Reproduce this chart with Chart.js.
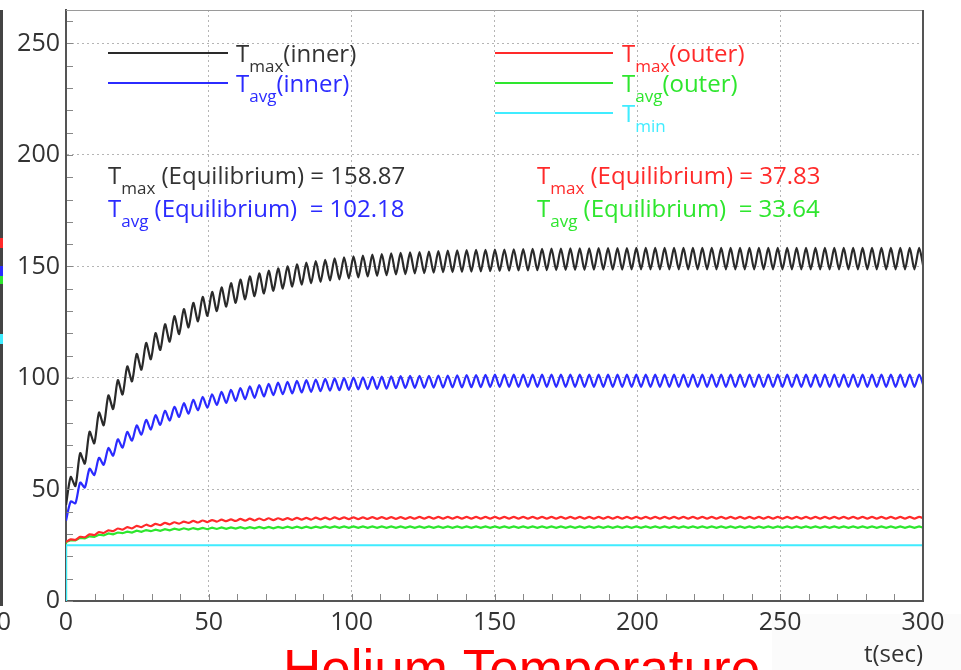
<!DOCTYPE html>
<html>
<head>
<meta charset="utf-8">
<title>Helium Temperature</title>
<script src="https://cdn.jsdelivr.net/npm/chart.js@4.4.1/dist/chart.umd.min.js"></script>
<style>
    html, body { margin: 0; padding: 0; background: #fff; }
    #wrap { width: 961px; height: 670px; }
</style>
</head>
<body>
<div id="wrap"><canvas id="chart-helium" width="961" height="670"></canvas></div>
<script>
(function () {
    "use strict";

    // ======================================================================
    // Data
    //
    // samples are taken every half period of the ~3.3 s oscillation
    const TIME_STEP = 1.65;

    const tmaxInner = [
        43.0, 55.6, 51.5, 66.3, 61.6, 75.9, 70.7, 84.5, 78.8, 92.2,
        86.1, 99.0, 92.6, 105.2, 98.5, 110.8, 103.7, 115.7, 108.4, 120.1,
        112.6, 124.1, 116.3, 127.7, 119.7, 130.9, 122.7, 133.7, 125.4, 136.3,
        127.9, 138.6, 130.0, 140.6, 132.0, 142.5, 133.7, 144.1, 135.3, 145.6,
        136.7, 146.9, 137.9, 148.1, 139.1, 149.2, 140.1, 150.1, 141.0, 151.0,
        141.8, 151.7, 142.5, 152.4, 143.1, 153.0, 143.7, 153.6, 144.2, 154.1,
        144.7, 154.5, 145.1, 154.9, 145.5, 155.3, 145.8, 155.6, 146.1, 155.9,
        146.4, 156.1, 146.6, 156.3, 146.9, 156.5, 147.0, 156.7, 147.2, 156.9,
        147.4, 157.1, 147.5, 157.2, 147.6, 157.3, 147.7, 157.4, 147.8, 157.5,
        147.9, 157.6, 148.0, 157.6, 148.1, 157.7, 148.2, 157.8, 148.2, 157.9,
        148.3, 157.9, 148.4, 158.0, 148.4, 158.0, 148.5, 158.1, 148.5, 158.1,
        148.5, 158.1, 148.6, 158.2, 148.6, 158.2, 148.6, 158.2, 148.6, 158.2,
        148.7, 158.3, 148.7, 158.3, 148.7, 158.3, 148.7, 158.3, 148.7, 158.3,
        148.7, 158.3, 148.7, 158.3, 148.7, 158.3, 148.7, 158.3, 148.7, 158.3,
        148.7, 158.3, 148.7, 158.3, 148.7, 158.3, 148.7, 158.3, 148.7, 158.3,
        148.7, 158.3, 148.7, 158.3, 148.7, 158.3, 148.7, 158.3, 148.7, 158.3,
        148.7, 158.3, 148.7, 158.3, 148.7, 158.3, 148.7, 158.3, 148.7, 158.3,
        148.7, 158.3, 148.7, 158.3, 148.7, 158.3, 148.7, 158.3, 148.7, 158.3,
        148.7, 158.3, 148.7
    ];

    const tavgInner = [
        36.0, 44.6, 43.8, 53.1, 50.9, 59.3, 56.5, 64.2, 61.1, 68.6,
        65.2, 72.5, 68.8, 75.8, 71.9, 78.7, 74.6, 81.2, 76.9, 83.3,
        79.0, 85.3, 80.9, 87.1, 82.5, 88.7, 84.0, 90.2, 85.5, 91.5,
        86.7, 92.7, 87.9, 93.8, 88.8, 94.7, 89.7, 95.5, 90.5, 96.2,
        91.1, 96.8, 91.7, 97.4, 92.3, 97.9, 92.7, 98.3, 93.1, 98.7,
        93.5, 99.0, 93.8, 99.3, 94.1, 99.6, 94.3, 99.8, 94.5, 100.0,
        94.7, 100.2, 94.9, 100.3, 95.0, 100.5, 95.1, 100.6, 95.2, 100.7,
        95.4, 100.8, 95.5, 100.9, 95.6, 101.0, 95.6, 101.0, 95.7, 101.1,
        95.7, 101.1, 95.8, 101.2, 95.8, 101.3, 95.9, 101.3, 95.9, 101.4,
        96.0, 101.5, 96.0, 101.5, 96.0, 101.5, 96.0, 101.5, 96.0, 101.5,
        96.0, 101.5, 96.0, 101.5, 96.0, 101.5, 96.0, 101.5, 96.0, 101.5,
        96.0, 101.5, 96.0, 101.5, 96.0, 101.5, 96.0, 101.5, 96.0, 101.5,
        96.0, 101.5, 96.0, 101.5, 96.0, 101.5, 96.0, 101.5, 96.0, 101.5,
        96.0, 101.5, 96.0, 101.5, 96.0, 101.5, 96.0, 101.5, 96.0, 101.5,
        96.0, 101.5, 96.0, 101.5, 96.0, 101.5, 96.0, 101.5, 96.0, 101.5,
        96.0, 101.5, 96.0, 101.5, 96.0, 101.5, 96.0, 101.5, 96.0, 101.5,
        96.0, 101.5, 96.0, 101.5, 96.0, 101.5, 96.0, 101.5, 96.0, 101.5,
        96.0, 101.5, 96.0, 101.5, 96.0, 101.5, 96.0, 101.5, 96.0, 101.5,
        96.0, 101.5, 96.0
    ];

    const tmaxOuter = [
        26.5, 27.6, 27.4, 28.8, 28.6, 29.9, 29.6, 30.9, 30.5, 31.7,
        31.3, 32.5, 32.0, 33.1, 32.6, 33.7, 33.1, 34.2, 33.6, 34.6,
        34.0, 35.0, 34.4, 35.3, 34.7, 35.6, 35.0, 35.9, 35.2, 36.1,
        35.4, 36.3, 35.6, 36.5, 35.8, 36.6, 35.9, 36.8, 36.0, 36.9,
        36.1, 37.0, 36.2, 37.1, 36.3, 37.1, 36.4, 37.2, 36.4, 37.3,
        36.5, 37.3, 36.5, 37.4, 36.6, 37.4, 36.6, 37.5, 36.7, 37.5,
        36.7, 37.5, 36.7, 37.5, 36.8, 37.6, 36.8, 37.6, 36.8, 37.6,
        36.8, 37.6, 36.8, 37.6, 36.9, 37.7, 36.9, 37.7, 36.9, 37.7,
        36.9, 37.7, 36.9, 37.7, 36.9, 37.7, 36.9, 37.7, 36.9, 37.7,
        36.9, 37.7, 36.9, 37.7, 36.9, 37.7, 36.9, 37.7, 36.9, 37.7,
        36.9, 37.7, 36.9, 37.7, 36.9, 37.7, 36.9, 37.7, 36.9, 37.7,
        36.9, 37.7, 36.9, 37.7, 36.9, 37.7, 36.9, 37.7, 36.9, 37.7,
        36.9, 37.7, 36.9, 37.7, 36.9, 37.7, 36.9, 37.7, 36.9, 37.7,
        36.9, 37.7, 36.9, 37.7, 36.9, 37.7, 36.9, 37.7, 36.9, 37.7,
        36.9, 37.7, 36.9, 37.7, 36.9, 37.7, 36.9, 37.7, 36.9, 37.7,
        36.9, 37.7, 36.9, 37.7, 36.9, 37.7, 36.9, 37.7, 36.9, 37.7,
        36.9, 37.7, 36.9, 37.7, 36.9, 37.7, 36.9, 37.7, 36.9, 37.7,
        36.9, 37.7, 36.9, 37.7, 36.9, 37.7, 36.9, 37.7, 36.9, 37.7,
        36.9, 37.7, 36.9
    ];

    const tavgOuterStart = 0;
    const tavgOuter = [
        26.5, 27.3, 27.2, 28.3, 28.1, 29.0, 28.8, 29.7, 29.4, 30.3,
        29.9, 30.7, 30.4, 31.1, 30.7, 31.5, 31.0, 31.8, 31.3, 32.0,
        31.5, 32.2, 31.7, 32.4, 31.9, 32.6, 32.0, 32.7, 32.1, 32.8,
        32.2, 32.9, 32.3, 33.0, 32.4, 33.0, 32.5, 33.1, 32.5, 33.1,
        32.6, 33.2, 32.6, 33.2, 32.6, 33.2, 32.7, 33.3, 32.7, 33.3,
        32.7, 33.3, 32.7, 33.3, 32.8, 33.4, 32.8, 33.4, 32.8, 33.4,
        32.8, 33.4, 32.8, 33.4, 32.8, 33.4, 32.8, 33.4, 32.8, 33.4,
        32.8, 33.4, 32.8, 33.4, 32.8, 33.4, 32.8, 33.4, 32.8, 33.4,
        32.8, 33.4, 32.8, 33.4, 32.8, 33.4, 32.8, 33.4, 32.8, 33.4,
        32.8, 33.4, 32.8, 33.4, 32.8, 33.4, 32.8, 33.4, 32.8, 33.4,
        32.8, 33.4, 32.8, 33.4, 32.8, 33.4, 32.8, 33.4, 32.8, 33.4,
        32.8, 33.4, 32.8, 33.4, 32.8, 33.4, 32.8, 33.4, 32.8, 33.4,
        32.8, 33.4, 32.8, 33.4, 32.8, 33.4, 32.8, 33.4, 32.8, 33.4,
        32.8, 33.4, 32.8, 33.4, 32.8, 33.4, 32.8, 33.4, 32.8, 33.4,
        32.8, 33.4, 32.8, 33.4, 32.8, 33.4, 32.8, 33.4, 32.8, 33.4,
        32.8, 33.4, 32.8, 33.4, 32.8, 33.4, 32.8, 33.4, 32.8, 33.4,
        32.8, 33.4, 32.8, 33.4, 32.8, 33.4, 32.8, 33.4, 32.8, 33.4,
        32.8, 33.4, 32.8, 33.4, 32.8, 33.4, 32.8, 33.4, 32.8, 33.4,
        32.8, 33.4, 32.8
    ];

    const tminTimes = [0, 0, 300];
    const tminValues = [0, 25, 25];

    // legend: [main, subscript, suffix]
    const legendInner = [['T', 'max', '(inner)'], ['T', 'avg', '(inner)']];
    const legendOuter = [['T', 'max', '(outer)'], ['T', 'avg', '(outer)'], ['T', 'min', '']];
    const equilibriumInner = [['max', ' (Equilibrium) = ', '158.87'], ['avg', ' (Equilibrium)  = ', '102.18']];
    const equilibriumOuter = [['max', ' (Equilibrium) = ', '37.83'], ['avg', ' (Equilibrium)  = ', '33.64']];

    const yTicksMajor = 50, axisMinorStep = 10;

    // ======================================================================
    // Styles
    //
    const
        C_BLACK = '#2a2a2a',
        C_BLUE = '#2b2bff',
        C_RED = '#ff2a2a',
        C_GREEN = '#2ee62e',
        C_CYAN = '#40ecff',
        C_TEXT = '#333333',
        FONT = '"Open Sans", "DejaVu Sans", sans-serif',
        MAIN_FONT = '24px ' + FONT,
        SUB_FONT = '17px ' + FONT;

    const toPoints = (values, lead) => {
        const pts = values.map((v, i) => ({ x: i * TIME_STEP, y: v }));
        return lead === undefined ? pts : [{ x: 0, y: lead }].concat(pts);
    };

    function drawSub(ctx, x, y, main, sub, rest, color) {
        ctx.fillStyle = color;
        ctx.textAlign = 'left';
        ctx.textBaseline = 'alphabetic';
        ctx.font = MAIN_FONT;
        ctx.fillText(main, x, y);
        x += ctx.measureText(main).width;
        ctx.font = SUB_FONT;
        ctx.fillText(sub, x, y + 10);
        x += ctx.measureText(sub).width;
        ctx.font = MAIN_FONT;
        ctx.fillText(rest, x, y);
    }

    // ======================================================================
    // Plugins
    //
    const backdrop = {
        id: 'backdrop',
        beforeDraw(chart) {
            const ctx = chart.ctx;
            ctx.save();
            ctx.fillStyle = '#ffffff';
            ctx.fillRect(0, 0, chart.width, chart.height);
            ctx.fillStyle = '#fbfbfb';
            ctx.fillRect(772, 614, chart.width - 772, chart.height - 614);
            ctx.restore();
        }
    };

    const decorations = {
        id: 'decorations',
        afterDraw(chart) {
            const ctx = chart.ctx, a = chart.chartArea,
                xs = chart.scales.x, ys = chart.scales.y;
            ctx.save();

            // frame (top and right)
            ctx.strokeStyle = '#9a9a9a';
            ctx.lineWidth = 1;
            ctx.beginPath();
            ctx.moveTo(a.left, a.top + 0.5);
            ctx.lineTo(a.right, a.top + 0.5);
            ctx.stroke();
            ctx.strokeStyle = '#555';
            ctx.lineWidth = 2;
            ctx.beginPath();
            ctx.moveTo(a.right, a.top);
            ctx.lineTo(a.right, a.bottom);
            ctx.stroke();

            // minor ticks, pointing inward
            ctx.strokeStyle = '#888';
            ctx.lineWidth = 1;
            ctx.beginPath();
            for (let v = 0; v <= ys.max; v += axisMinorStep) {
                const py = Math.round(ys.getPixelForValue(v)) + 0.5;
                ctx.moveTo(a.left + 1, py);
                ctx.lineTo(a.left + 7, py);
            }
            for (let t = axisMinorStep; t < xs.max; t += axisMinorStep) {
                const px = Math.round(xs.getPixelForValue(t)) + 0.5;
                ctx.moveTo(px, a.bottom - 1);
                ctx.lineTo(px, a.bottom - 7);
            }
            ctx.stroke();

            // legend
            const innerColors = [C_BLACK, C_BLUE], outerColors = [C_RED, C_GREEN, C_CYAN];
            ctx.lineWidth = 2;
            legendInner.forEach((l, i) => {
                const y = 53 + i * 30;
                ctx.strokeStyle = innerColors[i];
                ctx.beginPath();
                ctx.moveTo(108, y);
                ctx.lineTo(228, y);
                ctx.stroke();
                drawSub(ctx, 236, y + 9, l[0], l[1], l[2], i === 0 ? C_TEXT : C_BLUE);
            });
            legendOuter.forEach((l, i) => {
                const y = 53 + i * 30;
                ctx.strokeStyle = outerColors[i];
                ctx.beginPath();
                ctx.moveTo(495, y);
                ctx.lineTo(613, y);
                ctx.stroke();
                drawSub(ctx, 622, y + 9, l[0], l[1], l[2], outerColors[i]);
            });

            // equilibrium values
            equilibriumInner.forEach((e, i) => {
                drawSub(ctx, 108, 184 + i * 33, 'T', e[0], e[1] + e[2], i === 0 ? C_TEXT : C_BLUE);
            });
            equilibriumOuter.forEach((e, i) => {
                drawSub(ctx, 537, 184 + i * 33, 'T', e[0], e[1] + e[2], i === 0 ? C_RED : C_GREEN);
            });

            // neighbouring panel, cut off at the left edge
            ctx.fillStyle = '#444';
            ctx.fillRect(0, 10, 3, 596);
            [[C_RED, 238, 10], [C_BLUE, 266, 10], [C_GREEN, 276, 8], [C_CYAN, 334, 10]].forEach(s => {
                ctx.fillStyle = s[0];
                ctx.fillRect(0, s[1], 3, s[2]);
            });
            ctx.fillStyle = C_TEXT;
            ctx.font = '25px ' + FONT;
            ctx.textAlign = 'right';
            ctx.textBaseline = 'middle';
            ctx.fillText('00', 11, 623);

            // caption below, cut by the image edge
            ctx.fillStyle = '#ff0000';
            ctx.font = '53px "Liberation Sans", Arial, sans-serif';
            ctx.textAlign = 'left';
            ctx.textBaseline = 'alphabetic';
            ctx.fillText('Helium Temperature', 283, 687);

            ctx.restore();
        }
    };

    // ======================================================================
    // Chart
    //
    const lineSet = (label, points, color, tension) => ({
        label: label,
        data: points,
        borderColor: color,
        backgroundColor: color,
        borderWidth: 2.2,
        pointRadius: 0,
        tension: tension,
        fill: false
    });

    new Chart(document.getElementById('chart-helium'), {
        type: 'line',
        data: {
            datasets: [
                lineSet('Tmax(inner)', toPoints(tmaxInner), C_BLACK, 0.25),
                lineSet('Tavg(inner)', toPoints(tavgInner), C_BLUE, 0.25),
                lineSet('Tmax(outer)', toPoints(tmaxOuter), C_RED, 0.25),
                lineSet('Tmin', tminTimes.map((t, i) => ({ x: t, y: tminValues[i] })), C_CYAN, 0),
                lineSet('Tavg(outer)', toPoints(tavgOuter, tavgOuterStart), C_GREEN, 0)
            ]
        },
        options: {
            responsive: false,
            animation: false,
            devicePixelRatio: 1,
            layout: { padding: { left: 0, top: 10, right: 38, bottom: 0 } },
            plugins: {
                legend: { display: false },
                tooltip: { enabled: false }
            },
            scales: {
                x: {
                    type: 'linear',
                    min: 0,
                    max: 300,
                    ticks: {
                        stepSize: 50,
                        includeBounds: false,
                        maxRotation: 0,
                        padding: 7,
                        color: C_TEXT,
                        font: { family: FONT, size: 25 }
                    },
                    grid: { color: '#b5b5b5', lineWidth: 1, drawTicks: false },
                    border: { display: true, color: '#555', width: 2, dash: [2, 3] },
                    title: {
                        display: true,
                        text: 't(sec)',
                        align: 'end',
                        color: C_TEXT,
                        font: { family: FONT, size: 24 },
                        padding: { top: 0, bottom: 0 }
                    },
                    afterFit: s => {
                        s.height = 69;
                        s.paddingLeft = 0;
                        s.paddingRight = 0;
                    }
                },
                y: {
                    min: 0,
                    max: 265,
                    ticks: {
                        stepSize: yTicksMajor,
                        includeBounds: false,
                        padding: 6,
                        color: C_TEXT,
                        font: { family: FONT, size: 25 }
                    },
                    grid: { color: '#b5b5b5', lineWidth: 1, drawTicks: false },
                    border: { display: true, color: '#555', width: 2, dash: [2, 3] },
                    afterFit: s => {
                        s.width = 66;
                        s.paddingTop = 0;
                        s.paddingBottom = 0;
                    }
                }
            }
        },
        plugins: [backdrop, decorations]
    });
})();
</script>
</body>
</html>
